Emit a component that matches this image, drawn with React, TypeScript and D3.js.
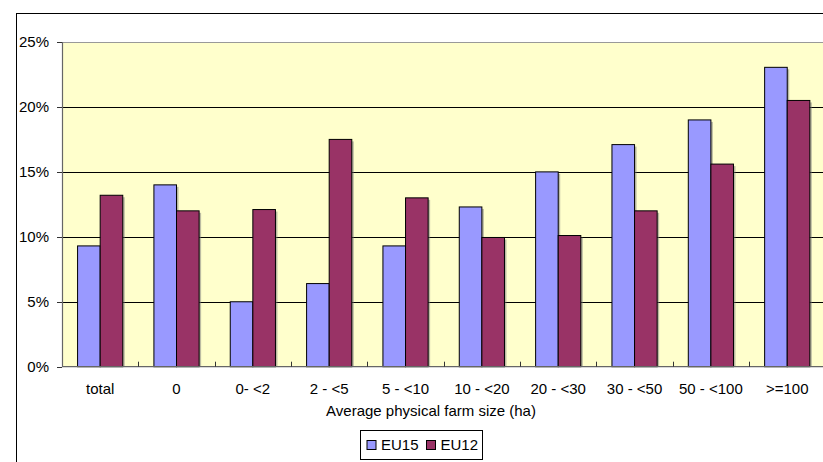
import React from "react";
import * as d3 from "d3";

const categories = ["total", "0", "0- <2", "2 - <5", "5 - <10", "10 - <20", "20 - <30", "30 - <50", "50 - <100", ">=100"];
const eu15 = [9.3, 14.0, 5.0, 6.4, 9.3, 12.3, 15.0, 17.1, 19.0, 23.05];
const eu12 = [13.2, 12.0, 12.1, 17.5, 13.0, 9.95, 10.1, 12.0, 15.6, 20.5];
const yTicks = [0, 5, 10, 15, 20, 25];
const seriesNames = ["EU15", "EU12"];
const seriesColors = ["#9999FF", "#993366"];

export default function App() {
  const W = 823, H = 462;
  const left = 62, right = 825.4, top = 42, bottom = 366.7;
  const x = d3.scaleBand<string>().domain(categories).range([left, right]).paddingInner(0).paddingOuter(0);
  const y = d3.scaleLinear().domain([0, 25]).range([bottom, top]);
  const bw = x.bandwidth();
  const barW = bw * 0.296;
  const groupOff = (bw - 2 * barW) / 2;
  const font = "'Liberation Sans', Arial, sans-serif";
  const series = [eu15, eu12];

  return (
    <svg width={W} height={H} style={{ position: "absolute", left: 0, top: 0, background: "#fff" }} fontFamily={font}>
      <rect x={0} y={0} width={W} height={H} fill="#fff" />
      <rect x={16.5} y={13.5} width={900} height={600} fill="none" stroke="#000" strokeWidth={1} />
      <rect x={left} y={top} width={right - left} height={bottom - top} fill="#FFFFCC" />
      {yTicks.filter(t => t > 0 && t < 25).map(t => (
        <line key={t} x1={left} x2={right} y1={Math.round(y(t)) + 0.5} y2={Math.round(y(t)) + 0.5} stroke="#000" strokeWidth={1} />
      ))}
      <line x1={left} x2={right} y1={top + 0.5} y2={top + 0.5} stroke="#999" strokeWidth={1} />
      {categories.map((c, i) =>
        series.map((s, k) => {
          const x0 = (x(c) as number) + groupOff + k * barW;
          const yv = y(s[i]);
          return (
            <g key={c + k}>
              <rect x={x0 + 2} y={yv + 2} width={barW} height={bottom - yv - 2} fill="#777" opacity={0.5} />
              <rect x={x0} y={yv} width={barW} height={bottom - yv} fill={seriesColors[k]} stroke="#000" strokeWidth={1} />
            </g>
          );
        })
      )}
      <line x1={left + 0.5} x2={left + 0.5} y1={top} y2={bottom} stroke="#666" strokeWidth={1.2} />
      <line x1={left} x2={right} y1={bottom} y2={bottom} stroke="#666" strokeWidth={1.2} />
      {yTicks.map(t => (
        <g key={t}>
          <line x1={57} x2={left} y1={Math.round(y(t)) + 0.5} y2={Math.round(y(t)) + 0.5} stroke="#333" />
          <text x={49} y={y(t) + 5} fontSize={15} textAnchor="end" fill="#000">{t}%</text>
        </g>
      ))}
      {categories.slice(1).map(c => (
        <line key={c} x1={Math.round(x(c) as number) + 0.5} x2={Math.round(x(c) as number) + 0.5} y1={bottom - 5} y2={bottom} stroke="#333" />
      ))}
      {categories.map(c => (
        <text key={c} x={(x(c) as number) + bw / 2} y={394} fontSize={15} textAnchor="middle" fill="#000">{c}</text>
      ))}
      <text x={431} y={416} fontSize={15} textAnchor="middle" fill="#000">Average physical farm size (ha)</text>
      <rect x={360.5} y={430.5} width={122} height={29} fill="#fff" stroke="#000" strokeWidth={1} />
      {seriesNames.map((n, k) => (
        <g key={n}>
          <rect x={367 + k * 59.5} y={440.5} width={9} height={9} fill={seriesColors[k]} stroke="#000" strokeWidth={1} />
          <text x={381 + k * 59.5} y={450} fontSize={15} fill="#000">{n}</text>
        </g>
      ))}
    </svg>
  );
}
